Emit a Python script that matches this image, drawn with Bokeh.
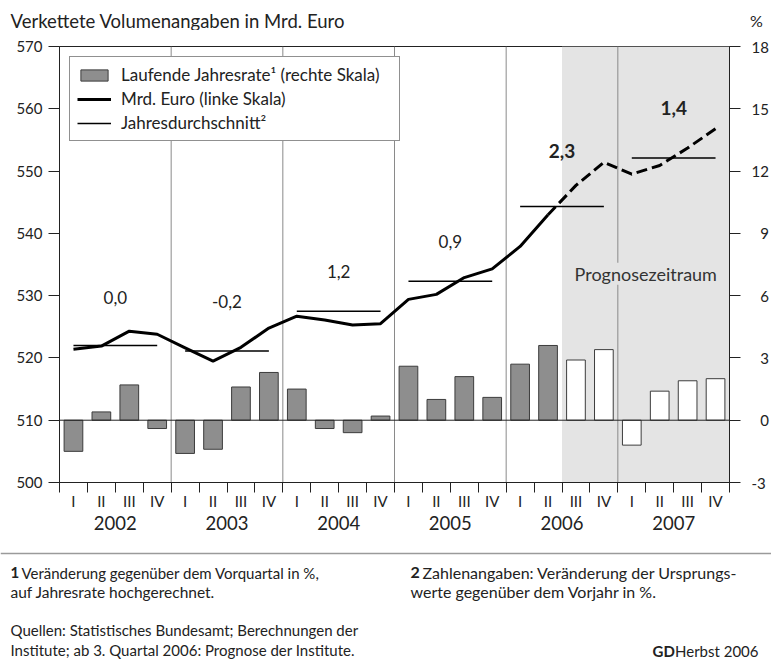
from bokeh.plotting import figure
from bokeh.layouts import column
from bokeh.models import (Range1d, LinearAxis, FixedTicker, Label, BoxAnnotation,
                          Legend, LegendItem, Span, ColumnDataSource)
from bokeh.core.properties import value
from bokeh.embed import file_html
from bokeh.resources import INLINE

# ---------------- data ----------------
years = ["2002", "2003", "2004", "2005", "2006", "2007"]
quarter_names = ["I", "II", "III", "IV"]
# Laufende Jahresrate (rechte Skala, %)
annual_rate = [-1.5, 0.4, 1.7, -0.4,
               -1.6, -1.4, 1.6, 2.3,
               1.5, -0.4, -0.6, 0.2,
               2.6, 1.0, 2.1, 1.1,
               2.7, 3.6, 2.9, 3.4,
               -1.2, 1.4, 1.9, 2.0]
# Mrd. Euro (linke Skala)
volume = [521.4, 521.9, 524.3, 523.8,
          521.6, 519.5, 521.7, 524.8,
          526.7, 526.1, 525.3, 525.5,
          529.4, 530.2, 532.9, 534.3,
          537.9, 543.0, 547.7, 551.4,
          549.5, 550.9, 553.7, 556.8]
# Jahresdurchschnitt (linke Skala)
year_avg = [522.0, 521.1, 527.5, 532.3, 544.3, 552.1]
year_growth = ["0,0", "-0,2", "1,2", "0,9", "2,3", "1,4"]
growth_bold = [False, False, False, False, True, True]
n_observed = 18          # up to 2006 Q2 observed, then forecast
left_ticks = [500, 510, 520, 530, 540, 550, 560, 570]
right_ticks = [-3, 0, 3, 6, 9, 12, 15, 18]

# ---------------- style ----------------
FONT = "Lato"
TXT = "#222222"
AX = "#222222"
BAR_GRAY = "#8e8e8e"
SHADE = "#e4e4e4"
VLINE = "#8a8a8a"
growth_dy_px = [48, 50, 40, 40, 56, 50]   # label distance above the average line
FIG_W = 771
TOP_H, MAIN_H, BOT_H = 30, 515, 114
FRAME_H = 436

n_q = len(years) * 4
xq = [i + 0.5 for i in range(n_q)]
px_per_unit = FRAME_H / 70.0

# =============== top strip: title and unit ===============
top = figure(width=FIG_W, height=TOP_H, x_range=Range1d(0, FIG_W), y_range=Range1d(TOP_H, 0),
             x_axis_type=None, y_axis_type=None, output_backend="svg",
             toolbar_location=None, min_border=0, outline_line_color=None,
             frame_align=False)
top.grid.visible = False
top.text(x=[10], y=[20], text=["Verkettete Volumenangaben in Mrd. Euro"],
         text_font=value(FONT), text_font_size=value("18.5px"), text_color=TXT,
         text_baseline="middle", text_align="left")
top.text(x=[756], y=[20], text=["%"], text_font=value(FONT), text_font_size=value("16px"),
         text_color=TXT, text_baseline="middle", text_align="center")

# =============== main chart ===============
p = figure(width=FIG_W, height=MAIN_H, x_range=Range1d(0, n_q), y_range=Range1d(500, 570),
           output_backend="svg", toolbar_location=None,
           min_border_left=59, min_border_right=41, min_border_top=16,
           min_border_bottom=MAIN_H - 16 - FRAME_H,
           background_fill_color="white", border_fill_color="white",
           frame_align=False)
p.extra_y_ranges = {"rate": Range1d(-3, 18)}
p.xgrid.visible = False
p.ygrid.visible = False
p.outline_line_color = AX
p.outline_line_width = 1

# left axis
ya = p.yaxis[0]
ya.ticker = FixedTicker(ticks=left_ticks)
ya.major_tick_out = 11
ya.major_tick_in = 0
ya.minor_tick_out = 0
ya.minor_tick_in = 0
ya.major_label_standoff = 6
ya.major_label_text_font = FONT
ya.major_label_text_font_size = "15px"
ya.major_label_text_color = TXT
ya.axis_line_color = AX
ya.major_tick_line_color = AX

# right axis
FSP = "\u2007"  # figure space, keeps single digits right-aligned with two-digit labels
ra = LinearAxis(y_range_name="rate", ticker=FixedTicker(ticks=right_ticks))
ra.major_tick_out = 11
ra.major_tick_in = 0
ra.minor_tick_out = 0
ra.minor_tick_in = 0
ra.major_label_overrides = {t: (FSP + str(t) if 0 <= t < 10 else str(t)) for t in right_ticks}
ra.major_label_standoff = 11
ra.major_label_text_font = FONT
ra.major_label_text_font_size = "15px"
ra.major_label_text_color = TXT
ra.axis_line_color = AX
ra.major_tick_line_color = AX
p.add_layout(ra, "right")

# bottom axis: quarter labels, ticks at quarter boundaries
xa = p.xaxis[0]
xa.ticker = FixedTicker(ticks=xq, minor_ticks=list(range(n_q + 1)))
xa.major_label_overrides = {x: quarter_names[i % 4] for i, x in enumerate(xq)}
xa.major_tick_out = 0
xa.major_tick_in = 0
xa.minor_tick_out = 10
xa.minor_tick_in = 0
xa.major_label_standoff = -1
xa.major_label_text_font = FONT
xa.major_label_text_font_size = "15px"
xa.major_label_text_color = TXT
xa.axis_line_color = AX
xa.major_tick_line_color = None
xa.minor_tick_line_color = AX

# second bottom axis: years
year_centers = [4 * k + 2 for k in range(len(years))]
ya2 = LinearAxis(ticker=FixedTicker(ticks=year_centers))
ya2.major_label_overrides = {c: y for c, y in zip(year_centers, years)}
ya2.major_tick_out = 0
ya2.major_tick_in = 0
ya2.minor_tick_out = 0
ya2.minor_tick_in = 0
ya2.major_label_standoff = 3
ya2.major_label_text_font = FONT
ya2.major_label_text_font_size = "18.5px"
ya2.major_label_text_color = TXT
ya2.axis_line_color = None
ya2.major_tick_line_color = None
ya2.minor_tick_line_color = None
p.add_layout(ya2, "below")

# forecast shading
p.add_layout(BoxAnnotation(left=n_observed, right=n_q, fill_color=SHADE, fill_alpha=1,
                           line_color=None, level="underlay"))

# year separator lines
bounds = [4 * k for k in range(1, len(years))]
p.segment(x0=bounds, x1=bounds, y0=[500] * len(bounds), y1=[570] * len(bounds),
          line_color=VLINE, line_width=1)

# bars
obs = ColumnDataSource(dict(x=xq[:n_observed], top=annual_rate[:n_observed]))
fc = ColumnDataSource(dict(x=xq[n_observed:], top=annual_rate[n_observed:]))
bars_obs = p.vbar(x="x", top="top", bottom=0, width=0.67, source=obs, y_range_name="rate",
                  fill_color=BAR_GRAY, line_color="#3c3c3c", line_width=1)
p.vbar(x="x", top="top", bottom=0, width=0.67, source=fc, y_range_name="rate",
       fill_color="white", line_color="#3c3c3c", line_width=1)

# zero line
p.add_layout(Span(location=510, dimension="width", line_color=AX, line_width=1))

# volume line
line_obs = p.line(xq[:n_observed], volume[:n_observed], line_color="black", line_width=3,
                  line_join="round")
p.line(xq[n_observed - 1:], volume[n_observed - 1:], line_color="black", line_width=3,
       line_dash="11 5", line_join="round")

# annual averages
avg_r = p.segment(x0=[4 * k + 0.5 for k in range(len(years))],
                  x1=[4 * k + 3.5 for k in range(len(years))],
                  y0=year_avg, y1=year_avg, line_color="black", line_width=1.5)

# growth labels
for k, (g, b) in enumerate(zip(year_growth, growth_bold)):
    p.add_layout(Label(x=year_centers[k], y=year_avg[k] + growth_dy_px[k] / px_per_unit,
                       text=g, text_font=FONT, text_font_size="19px" if b else "17px",
                       text_font_style="bold" if b else "normal", text_align="center",
                       text_baseline="middle", text_color=TXT))

# forecast label (background hides the year line behind the text)
p.add_layout(Label(x=(n_observed + n_q) / 2, y=533.5, text="Prognosezeitraum",
                   text_font=FONT, text_font_size="18px", text_align="center",
                   text_baseline="middle", text_color="#333333",
                   background_fill_color=SHADE, background_fill_alpha=1))

# legend
legend = Legend(items=[
    LegendItem(label="Laufende Jahresrate\u00b9 (rechte Skala)", renderers=[bars_obs]),
    LegendItem(label="Mrd. Euro (linke Skala)", renderers=[line_obs]),
    LegendItem(label="Jahresdurchschnitt\u00b2", renderers=[avg_r]),
], location="top_left", margin=10, padding=7, spacing=3, glyph_width=34, glyph_height=14,
    label_standoff=10, label_width=271, label_height=20, label_text_font=FONT,
    label_text_font_size="17px", label_text_color=TXT, border_line_color=AX,
    border_line_width=1, background_fill_color="white", background_fill_alpha=1)
p.add_layout(legend)

# =============== bottom strip: notes ===============
Y0 = TOP_H + MAIN_H
bot = figure(width=FIG_W, height=BOT_H, x_range=Range1d(0, FIG_W),
             y_range=Range1d(Y0 + BOT_H, Y0), x_axis_type=None, y_axis_type=None,
             output_backend="svg", toolbar_location=None, min_border=0,
             outline_line_color=None, frame_align=False)
bot.grid.visible = False
bot.add_layout(Span(location=553, dimension="width", line_color="#9a9a9a", line_width=1.5))


def note(x, y, s, bold=False, align="left", size="15px"):
    bot.text(x=[x], y=[y], text=[s], text_font=value(FONT), text_font_size=value(size),
             text_font_style="bold" if bold else "normal", text_color=TXT,
             text_baseline="middle", text_align=align)


note(10, 572, "1", bold=True)
note(21, 572, "Veränderung gegenüber dem Vorquartal in %,")
note(10, 591, "auf Jahresrate hochgerechnet.", size="15.5px")
note(410, 572, "2", bold=True, size="16px")
note(422, 572, "Zahlenangaben: Veränderung der Ursprungs-", size="16px")
note(410, 591, "werte gegenüber dem Vorjahr in %.", size="16px")
note(10, 629, "Quellen: Statistisches Bundesamt; Berechnungen der")
note(10, 649, "Institute; ab 3. Quartal 2006: Prognose der Institute.")
note(652, 650, "GD", bold=True)
note(758, 650, "Herbst 2006", align="right")

layout = column(top, p, bot, spacing=0)
open("out.html", "w").write(file_html(layout, INLINE))
